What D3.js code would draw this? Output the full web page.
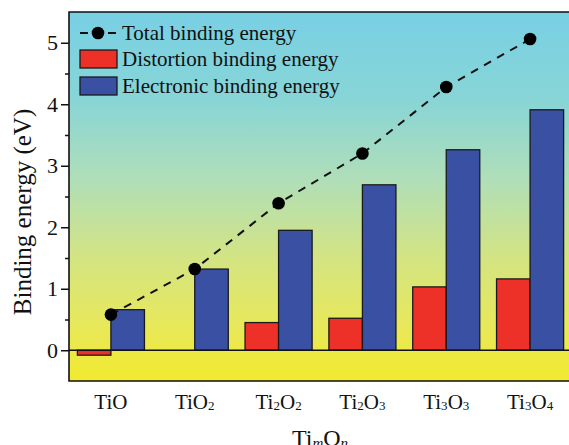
<!DOCTYPE html>
<html>
<head>
<meta charset="utf-8">
<script src="https://cdn.jsdelivr.net/npm/d3@7"></script>
<style>
  html, body { margin: 0; padding: 0; background: #fff; }
  svg { display: block; }
  text { font-family: "Liberation Serif", "Times New Roman", serif; fill: #111; }
</style>
</head>
<body>
<svg id="chart" width="569" height="445"></svg>
<script>
// data
var categories = ["TiO", "TiO2", "Ti2O2", "Ti2O3", "Ti3O3", "Ti3O4"];
var totalEnergy = [0.58, 1.32, 2.39, 3.20, 4.28, 5.06];
var distortionEnergy = [-0.08, 0, 0.45, 0.52, 1.03, 1.16];
var electronicEnergy = [0.66, 1.32, 1.95, 2.69, 3.26, 3.91];
var yTicks = [0, 1, 2, 3, 4, 5];
var yMinorTicks = [0.5, 1.5, 2.5, 3.5, 4.5];
var legendLabels = ["Total binding energy", "Distortion binding energy", "Electronic binding energy"];

var RED = "#ee3128", BLUE = "#3a51a3";

var svg = d3.select("#chart");
var pLeft = 69, pRight = 572, pTop = 12, pBottom = 381;

var x = d3.scaleBand().domain(categories).range([pLeft, pRight])
    .paddingInner(0.2).paddingOuter(0.1);
var x1 = d3.scaleBand().domain(["distortion", "electronic"]).range([0, x.bandwidth()]);
var y = d3.scaleLinear().domain([-0.5, 5.5]).range([pBottom, pTop]);

// background gradient
var grad = svg.append("defs").append("linearGradient")
    .attr("id", "bg").attr("gradientUnits", "userSpaceOnUse")
    .attr("x1", 0).attr("x2", 0).attr("y1", pTop).attr("y2", pBottom);
var stops = [[0, "rgb(120,208,228)"], [0.24, "rgb(136,213,214)"], [0.45, "rgb(175,222,185)"],
             [0.67, "rgb(212,228,130)"], [0.86, "rgb(232,232,88)"], [1, "rgb(242,234,45)"]];
grad.selectAll("stop").data(stops).enter().append("stop")
    .attr("offset", function(d) { return d[0]; })
    .attr("stop-color", function(d) { return d[1]; });

svg.append("rect").attr("x", pLeft).attr("y", pTop)
    .attr("width", pRight - pLeft).attr("height", pBottom - pTop)
    .attr("fill", "url(#bg)");

// bars
var rows = categories.map(function(c, i) {
    return { cat: c, distortion: distortionEnergy[i], electronic: electronicEnergy[i] };
});
var groups = svg.selectAll("g.grp").data(rows).enter().append("g")
    .attr("class", "grp")
    .attr("transform", function(d) { return "translate(" + x(d.cat) + ",0)"; });
groups.selectAll("rect")
    .data(function(d) {
        return [{ k: "distortion", v: d.distortion }, { k: "electronic", v: d.electronic }];
    })
    .enter().append("rect")
    .attr("x", function(d) { return x1(d.k); })
    .attr("y", function(d) { return y(Math.max(0, d.v)); })
    .attr("width", x1.bandwidth())
    .attr("height", function(d) { return Math.abs(y(d.v) - y(0)); })
    .attr("fill", function(d) { return d.k == "distortion" ? RED : BLUE; })
    .attr("stroke", "#1a1a1a")
    .attr("stroke-width", 1.3);

// zero line
svg.append("line").attr("x1", pLeft).attr("x2", pRight)
    .attr("y1", y(0)).attr("y2", y(0))
    .attr("stroke", "#111").attr("stroke-width", 1.6);

// total line + dots
var cx = function(d, i) { return x(categories[i]) + x.bandwidth() / 2; };
var line = d3.line().x(cx).y(function(d) { return y(d); });
svg.append("path").datum(totalEnergy)
    .attr("d", line).attr("fill", "none")
    .attr("stroke", "#111").attr("stroke-width", 2)
    .attr("stroke-dasharray", "8,7");
svg.selectAll("circle.pt").data(totalEnergy).enter().append("circle")
    .attr("class", "pt")
    .attr("cx", cx).attr("cy", function(d) { return y(d); })
    .attr("r", 6.3).attr("fill", "#000");

// frame (left, top, bottom)
svg.append("path")
    .attr("d", "M" + pRight + "," + pTop + "H" + pLeft + "V" + pBottom + "H" + pRight)
    .attr("fill", "none").attr("stroke", "#111").attr("stroke-width", 1.6);

// y axis
var yAxis = svg.append("g").attr("transform", "translate(" + pLeft + ",0)")
    .call(d3.axisLeft(y).tickValues(yTicks).tickSize(8).tickPadding(3).tickFormat(d3.format("d")));
yAxis.attr("font-family", null);
yAxis.select(".domain").remove();
yAxis.selectAll(".tick line").attr("stroke", "#111").attr("stroke-width", 1.5);
yAxis.selectAll(".tick text").attr("font-size", 22).attr("fill", "#111");

var yMinor = svg.append("g").attr("transform", "translate(" + pLeft + ",0)")
    .call(d3.axisLeft(y).tickValues(yMinorTicks).tickSize(4).tickFormat(""));
yMinor.select(".domain").remove();
yMinor.selectAll(".tick line").attr("stroke", "#111").attr("stroke-width", 1.5);

// x tick labels with subscripts
function subLabel(sel, s, size) {
    var parts = s.match(/[A-Za-z]+|\d+/g);
    parts.forEach(function(p, j) {
        var isNum = /\d/.test(p);
        sel.append("tspan").text(p)
            .attr("font-size", isNum ? size * 0.62 : size)
            .attr("dy", isNum ? 1 : (j > 0 && /\d/.test(parts[j - 1]) ? -1 : 0));
    });
}
categories.forEach(function(c) {
    var t = svg.append("text")
        .attr("x", x(c) + x.bandwidth() / 2).attr("y", 409)
        .attr("text-anchor", "middle");
    subLabel(t, c, 21);
});

// axis titles
svg.append("text")
    .attr("transform", "translate(31,212) rotate(-90)")
    .attr("text-anchor", "middle").attr("font-size", 25)
    .text("Binding energy (eV)");

var xt = svg.append("text").attr("x", 320).attr("y", 446)
    .attr("text-anchor", "middle").attr("font-size", 24);
xt.append("tspan").text("Ti");
xt.append("tspan").text("m").attr("font-size", 15).attr("font-style", "italic").attr("dy", 2);
xt.append("tspan").text("O").attr("dy", -2);
xt.append("tspan").text("n").attr("font-size", 15).attr("font-style", "italic").attr("dy", 2);

// legend
var lg = svg.append("g");
var rowY = [33, 59, 86];
lg.append("line").attr("x1", 80).attr("x2", 88).attr("y1", rowY[0]).attr("y2", rowY[0])
    .attr("stroke", "#111").attr("stroke-width", 2);
lg.append("line").attr("x1", 108).attr("x2", 116).attr("y1", rowY[0]).attr("y2", rowY[0])
    .attr("stroke", "#111").attr("stroke-width", 2);
lg.append("circle").attr("cx", 98).attr("cy", rowY[0]).attr("r", 6.3).attr("fill", "#000");
[RED, BLUE].forEach(function(col, i) {
    lg.append("rect").attr("x", 80).attr("y", rowY[i + 1] - 9)
        .attr("width", 37).attr("height", 18)
        .attr("fill", col).attr("stroke", "#1a1a1a").attr("stroke-width", 1.3);
});
legendLabels.forEach(function(l, i) {
    lg.append("text").attr("x", 122).attr("y", rowY[i] + 7)
        .attr("font-size", 21).text(l);
});
</script>
</body>
</html>
